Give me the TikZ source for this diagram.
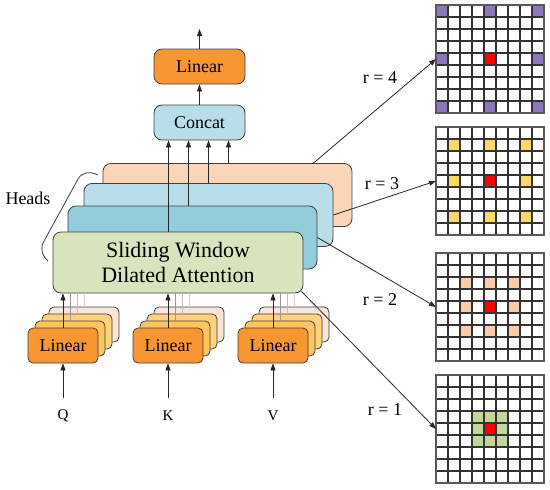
\documentclass[tikz,border=0pt]{standalone}
\usepackage{fontspec}
\setmainfont{Liberation Serif}[Ligatures=TeX]
\newfontfamily\tms{Liberation Serif}
\usetikzlibrary{arrows.meta,calc}
\definecolor{orng}{HTML}{F79633}
\definecolor{lay2}{HTML}{FFC55A}
\definecolor{lay3}{HTML}{FFD37C}
\definecolor{lay4}{HTML}{FBE5D6}
\definecolor{hpeach}{HTML}{FAD5B8}
\definecolor{hlblue}{HTML}{B9DEE9}
\definecolor{hteal}{HTML}{93CDDC}
\definecolor{hgreen}{HTML}{D8E4BE}
\definecolor{cpur}{HTML}{8C78B8}
\definecolor{cyel}{HTML}{FFD966}
\definecolor{cpch}{HTML}{F8CBAD}
\definecolor{cgrn}{HTML}{C4D79B}
\definecolor{edge}{HTML}{404040}
\begin{document}
\begin{tikzpicture}[x=1pt,y=-1pt,
  box/.style={draw=edge, line width=0.8pt, rounded corners=8pt, inner sep=0pt, align=center},
  head/.style={box, minimum width=249pt, minimum height=63pt},
  lin/.style={box, rounded corners=5pt, minimum width=70pt, minimum height=35pt, font=\tms\fontsize{18}{20}\selectfont},
  arr/.style={-{Triangle[length=7pt,width=5pt]}, line width=0.8pt, draw=black!85},
  rlab/.style={font=\tms\fontsize{18}{20}\selectfont, inner sep=1pt},
  inlab/.style={font=\tms\fontsize{15}{17}\selectfont, inner sep=1pt},
  gridnode/.style={minimum size=108pt, inner sep=0pt, outer sep=0pt},
  gl/.style={draw=black!80, line width=2pt}
]
\useasboundingbox (0,0) rectangle (550,490);

% head boxes
\node[head, fill=hpeach] (peach) at (227.5,195) {};
\node[head, fill=hlblue] (lblue) at (208.5,215) {};
\node[head, fill=hteal] (teal) at (192.5,237.5) {};
\node[head, fill=hgreen, minimum width=250pt, minimum height=61pt,
      font=\tms\fontsize{22}{25}\selectfont] (green) at (178,262.5) {Sliding Window\\Dilated Attention};

% top
\node[box, fill=hlblue, minimum width=91pt, minimum height=35pt, font=\tms\fontsize{18}{20}\selectfont] (concat) at (199.5,122.5) {Concat};
\node[box, fill=orng, minimum width=91pt, minimum height=35pt, font=\tms\fontsize{18}{20}\selectfont] (outlin) at (199.5,66.5) {Linear};
\coordinate (out) at (199.5,29);
\draw[arr] (outlin.north) -- (out);
\draw[arr] (concat.north) -- (outlin.south);

\coordinate (x1) at (168.5,0);
\coordinate (x2) at (188.5,0);
\coordinate (x3) at (208.5,0);
\coordinate (x4) at (228.5,0);
\draw[arr] (green.north -| x1) -- (concat.south -| x1);
\draw[arr] (teal.north -| x2) -- (concat.south -| x2);
\draw[arr] (lblue.north -| x3) -- (concat.south -| x3);
\draw[arr] (peach.north -| x4) -- (concat.south -| x4);

% heads bracket
\node[font=\tms\fontsize{18}{20}\selectfont, inner sep=1pt] (heads) at (28,198) {Heads};
\draw[draw=edge, line width=0.8pt] (98,175) .. controls (90,171) and (82,172) .. (78,179)
  -- (43,243) .. controls (40,250) and (43,257) .. (48,261);

% linear stacks
\foreach \cx/\nm/\lab in {63/q/Q,168/k/K,273/v/V}{
  \node[lin, fill=lay4] (\nm4) at (\cx+21,324.5) {};
  \node[lin, fill=lay3] (\nm3) at (\cx+14,331.5) {};
  \node[lin, fill=lay2] (\nm2) at (\cx+7,338.5) {};
  \node[lin, fill=orng] (\nm1) at (\cx,345.5) {Linear};
  \draw[line width=0.8pt, draw=gray!80] (\nm2.north) -- (green.south -| \nm2.north);
  \draw[line width=0.8pt, draw=gray!50] (\nm3.north) -- (green.south -| \nm3.north);
  \draw[line width=0.8pt, draw=gray!35] (\nm4.north) -- (green.south -| \nm4.north);
  \draw[arr] (\nm1.north) -- (green.south -| \nm1.north);
  \node[inlab] (\nm lab) at (\cx,416) {\lab};
  \coordinate (\nm in) at (\cx,398);
  \draw[arr] (\nm in) -- (\nm1.south);
}

% grids
\foreach \top/\a/\b/\col/\nm in {5/0/8/cpur/g4, 127/1/7/cyel/g3, 253/2/6/cpch/g2, 375/3/5/cgrn/g1}{
  \begin{scope}[shift={(436,\top)}]
    \foreach \i in {\a,4,\b}{
      \foreach \j in {\a,4,\b}{
        \fill[\col] (\i*12,\j*12) rectangle +(12,12);
      }
    }
    \fill[red] (48,48) rectangle +(12,12);
    \foreach \k in {1,...,8}{
      \draw[gl] (\k*12,0) -- (\k*12,108);
      \draw[gl] (0,\k*12) -- (108,\k*12);
    }
    \draw[gl, draw=black!65] (0,0) rectangle (108,108);
  \end{scope}
  \node[gridnode] (\nm) at (490,\top+54) {};
}

% dilation arrows
\draw[arr] ([xshift=-39pt]peach.north east) -- (g4.west);
\draw[arr] (lblue.east) -- (g3.west);
\draw[arr] (teal.east) -- (g2.west);
\draw[arr] ([shift={(-2pt,2pt)}]green.south east) -- (g1.west);
\node[rlab] (r4) at (380,78) {r = 4};
\node[rlab] (r3) at (382,184) {r = 3};
\node[rlab] (r2) at (380,300) {r = 2};
\node[rlab] (r1) at (385,410) {r = 1};
\end{tikzpicture}
\end{document}
